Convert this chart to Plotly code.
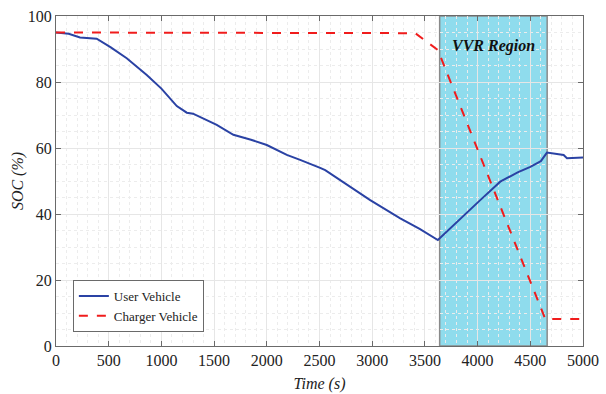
import plotly.graph_objects as go

# User vehicle SOC
user_t = [0, 120, 228, 386, 520, 671, 861, 1000, 1146, 1241, 1300, 1525, 1683, 1850, 2000,
          2190, 2316, 2420, 2506, 2554, 2750, 2981, 3266, 3450, 3623,
          3800, 4025, 4215, 4380, 4500, 4600, 4658, 4721, 4816, 4848, 4920, 5000]
user_soc = [95.0, 94.6, 93.5, 93.1, 90.5, 87.2, 82.1, 78.0, 72.7, 70.7, 70.4, 67.0, 64.0, 62.5, 60.9,
            57.9, 56.4, 55.2, 54.0, 53.3, 49.0, 44.2, 38.7, 35.5, 32.1,
            37.5, 44.2, 49.8, 52.6, 54.3, 56.0, 58.6, 58.4, 57.9, 56.9, 57.1, 57.1]

# Charger vehicle SOC
charger_t = [0, 3408, 3623, 4642, 5000]
charger_soc = [95.0, 94.8, 89.7, 8.2, 8.2]

# VVR region
vvr_start, vvr_end = 3640, 4660

x_ticks = list(range(0, 5001, 500))
y_ticks = list(range(0, 101, 20))

serif = "Liberation Serif, Times New Roman, serif"

fig = go.Figure()

fig.add_shape(type="rect", xref="x", yref="y", x0=vvr_start, x1=vvr_end, y0=0, y1=100,
              fillcolor="#8fdced", line=dict(color="#8a8a8a", width=1.5), layer="below")

fig.add_trace(go.Scatter(x=user_t, y=user_soc, mode="lines", name="User Vehicle",
                         line=dict(color="#2a42a4", width=2)))
fig.add_trace(go.Scatter(x=charger_t, y=charger_soc, mode="lines", name="Charger Vehicle",
                         line=dict(color="#f01c1c", width=2, dash="dash")))

fig.add_annotation(x=(vvr_start + vvr_end) / 2, y=91, xref="x", yref="y",
                   text="<b><i>VVR Region</i></b>", showarrow=False,
                   font=dict(family=serif, size=16, color="#111"))

axis_common = dict(
    showline=True, linecolor="#6a6a6a", linewidth=1, mirror="ticks",
    ticks="inside", ticklen=5, tickcolor="#6a6a6a",
    showgrid=True, gridcolor="#e6e6e6", gridwidth=1, zeroline=False,
    tickfont=dict(family=serif, size=16, color="#222"),
    automargin=False,
)

fig.update_xaxes(range=[0, 5000], tickvals=x_ticks,
                 title=dict(text="<i>Time (s)</i>", font=dict(family=serif, size=16, color="#222"), standoff=9),
                 minor=dict(dtick=100, showgrid=True, griddash="dot", gridcolor="#ececec", ticks=""),
                 **axis_common)
fig.update_yaxes(range=[0, 100], tickvals=y_ticks,
                 title=dict(text="<i>SOC (%)</i>", font=dict(family=serif, size=16, color="#222"), standoff=0),
                 minor=dict(dtick=5, showgrid=True, griddash="dot", gridcolor="#ececec", ticks=""),
                 **axis_common)

fig.update_layout(
    width=606, height=394,
    margin=dict(l=56, r=23, t=16, b=48),
    plot_bgcolor="white", paper_bgcolor="white",
    legend=dict(x=0.032, y=0.2, xanchor="left", yanchor="top",
                bgcolor="white", bordercolor="#6a6a6a", borderwidth=1,
                font=dict(family=serif, size=13, color="#222"),
                tracegroupgap=0, itemwidth=30),
)

fig.write_html("out.html", config={"displayModeBar": False},
               post_script="document.body.style.margin='0';document.body.style.padding='0';")
